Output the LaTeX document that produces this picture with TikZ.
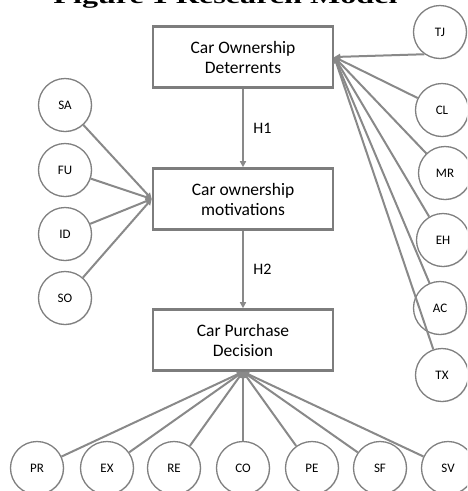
\documentclass[tikz,border=0pt]{standalone}
\usepackage{fontspec}
\setmainfont{Carlito}
\newfontfamily\titlefont{Liberation Serif}
\usetikzlibrary{arrows.meta,shadows}

\definecolor{linegray}{RGB}{137,137,137}
\definecolor{boxgray}{RGB}{125,125,125}
\definecolor{circgray}{RGB}{128,128,128}

\begin{document}
\begin{tikzpicture}[x=1pt, y=-1pt,
        box/.style={draw=boxgray, line width=2.6pt, fill=white, minimum width=180pt, minimum height=61pt,
            align=center, font=\fontsize{17.5}{20}\selectfont,
            drop shadow={shadow xshift=1.2pt, shadow yshift=-1.2pt, opacity=0.25}},
        var/.style={circle, draw=circgray, line width=1.3pt, fill=white, minimum size=53pt, inner sep=0pt,
            font=\fontsize{13}{15}\selectfont,
            drop shadow={shadow xshift=0.8pt, shadow yshift=-0.8pt, opacity=0.2}},
        link/.style={draw=linegray, line width=2pt, -{Triangle[length=6pt,width=6pt]}},
        hyp/.style={right=6pt, font=\fontsize{16}{18}\selectfont}
    ]
        \useasboundingbox (0,0) rectangle (467,491);
        \clip (0,0) rectangle (467,491);

        % title, cut by the top edge
        \node[anchor=base, inner sep=0pt, font=\titlefont\bfseries\fontsize{22}{24}\selectfont] (title) at (225.5,3)
            {\scalebox{1.46}[1]{Figure 1 Research Model}};

        % the three constructs
        \node[box] (ded) at (243,57) {Car Ownership\\Deterrents};
        \node[box] (mot) at (243,199) {Car ownership\\motivations};
        \node[box] (dec) at (243,340) {Car Purchase\\Decision};

        \draw[link] (ded) -- node[hyp]{H1} (mot);
        \draw[link] (mot) -- node[hyp]{H2} (dec);

        % motivations
        \node[var] (SA) at (65,105) {SA};
        \node[var] (FU) at (65,170) {FU};
        \node[var] (ID) at (65,234) {ID};
        \node[var] (SO) at (65,298) {SO};
        \foreach \v in {SA,FU,ID,SO}
            \draw[link] (\v) -- (mot.west);

        % deterrents
        \node[var] (TJ) at (440,32) {TJ};
        \node[var] (CL) at (442,110) {CL};
        \node[var] (MR) at (445,173) {MR};
        \node[var] (EH) at (443,240) {EH};
        \node[var] (AC) at (440,308) {AC};
        \node[var] (TX) at (442,375) {TX};
        \draw[link] (TJ.235) -- (ded.east);
        \foreach \v in {CL,MR,EH,AC,TX}
            \draw[link] (\v) -- (ded.east);

        % purchase decision factors
        \foreach \v/\x in {PR/37,EX/107,RE/174,CO/243,PE/312,SF/380,SV/448} {
            \node[var] (\v) at (\x,468) {\v};
            \draw[link] (\v) -- (dec.south);
        }
    \end{tikzpicture}
\end{document}
